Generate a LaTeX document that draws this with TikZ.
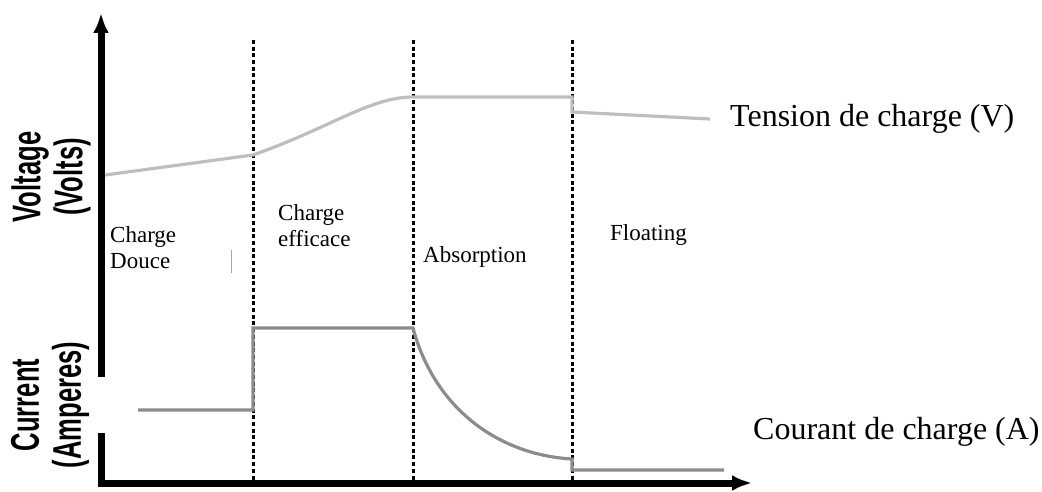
\documentclass[tikz,border=0pt]{standalone}
\usepackage{fontspec}
\setmainfont{Liberation Serif}
\newfontfamily\axisfont[FakeStretch=0.64]{Liberation Sans}
\usetikzlibrary{arrows.meta}

\begin{document}
\begin{tikzpicture}[x=1pt, y=-1pt,
        axis/.style={line width=7pt, -{Latex[length=20pt, width=16pt]}},
        phase/.style={line width=3pt, dash pattern=on 4pt off 2.7pt},
        volt/.style={line width=3.2pt, color={rgb,255:red,190;green,190;blue,190}},
        amp/.style={line width=3.2pt, color={rgb,255:red,140;green,140;blue,140}},
        stage/.style={anchor=west, align=left, inner sep=0pt, font=\fontsize{23}{26}\selectfont},
        legend/.style={anchor=west, inner sep=0pt, font=\fontsize{32}{36}\selectfont},
        axislbl/.style={rotate=90, align=center, inner sep=0pt, font=\axisfont\bfseries\fontsize{40}{42}\selectfont}]
            \useasboundingbox (0,0) rectangle (1042,492);

            % Axes
            \coordinate (origin) at (101,483);
            \draw[axis] (101,486.5) -- (101,13);
            \draw[axis] (97.5,483) -- (752,483);
            % gap in the vertical axis
            \fill[white] (95,377) rectangle (108,433);

            % Phase limits
            \draw[phase] (253,40) -- (253,485);
            \draw[phase] (413,40) -- (413,485);
            \draw[phase] (572,40) -- (572,485);

            % Voltage
            \draw[volt] (105,175) -- (253,155)
                .. controls (330,128) and (370,97) .. (413,97)
                -- (572,97) -- (572,112) -- (710,119);

            % Current
            \draw[amp] (138,410) -- (253,410) -- (253,328) -- (413,328)
                .. controls (435,410) and (500,455) .. (572,459)
                -- (572,470) -- (724,470);

            % small mark
            \draw[gray!70, line width=0.6pt] (231,250) -- (231,273);

            % Axis labels
            \node[axislbl] (voltlbl) at (51,177) {Voltage\\(Volts)};
            \node[axislbl] (currlbl) at (50,405) {Current\\(Amperes)};

            % Phases
            \node[stage] (douce) at (110,248) {Charge\\Douce};
            \node[stage] (efficace) at (278,226) {Charge\\efficace};
            \node[stage] (absorption) at (423,257) {Absorption};
            \node[stage] (floating) at (610,235) {Floating};

            % Curves
            \node[legend] (tension) at (730,119) {Tension de charge (V)};
            \node[legend] (courant) at (753,432) {Courant de charge (A)};
\end{tikzpicture}
\end{document}
